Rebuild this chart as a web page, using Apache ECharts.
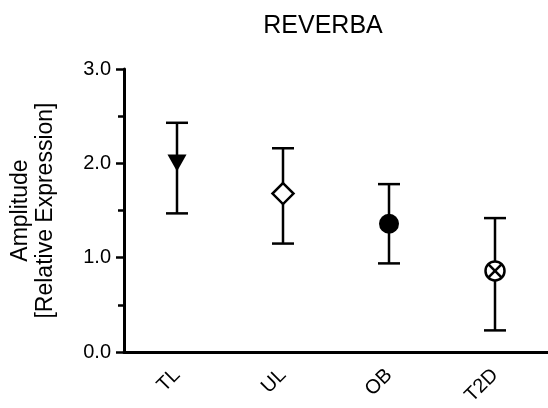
<!DOCTYPE html>
<html><head><meta charset="utf-8">
<script src="https://cdn.jsdelivr.net/npm/echarts@6/dist/echarts.min.js"></script>
<style>html,body{margin:0;padding:0;background:#fff}#c{width:548px;height:408px}</style>
</head><body><div id="c"></div>
<script>
var categories = ['TL', 'UL', 'OB', 'T2D'];
var means = [2.01, 1.68, 1.36, 0.86];
var lows = [1.47, 1.15, 0.94, 0.23];
var highs = [2.43, 2.16, 1.78, 1.42];
var markers = ['triangleDown', 'diamondOpen', 'circleFilled', 'circleCross'];
var yTicks = [0, 1, 2, 3];

var data = categories.map(function (c, i) { return [i, means[i], lows[i], highs[i], i]; });
var FONT = 'Liberation Sans, Arial, sans-serif';

function renderItem(params, api) {
  var x = api.value(0);
  var m = api.coord([x, api.value(1)]);
  var lo = api.coord([x, api.value(2)]);
  var hi = api.coord([x, api.value(3)]);
  var kind = markers[api.value(4)];
  var cap = 11;
  var ls = {stroke: '#000', lineWidth: 2.5};
  var children = [
    {type: 'line', shape: {x1: m[0], y1: lo[1], x2: m[0], y2: hi[1]}, style: ls},
    {type: 'line', shape: {x1: m[0] - cap, y1: lo[1], x2: m[0] + cap, y2: lo[1]}, style: ls},
    {type: 'line', shape: {x1: m[0] - cap, y1: hi[1], x2: m[0] + cap, y2: hi[1]}, style: ls}
  ];
  var cx = m[0], cy = m[1];
  if (kind === 'triangleDown') {
    children.push({type: 'polygon', shape: {points: [[cx - 9.5, cy - 8], [cx + 9.5, cy - 8], [cx, cy + 9]]}, style: {fill: '#000'}});
  } else if (kind === 'diamondOpen') {
    children.push({type: 'polygon', shape: {points: [[cx, cy - 10.5], [cx + 10.5, cy], [cx, cy + 10.5], [cx - 10.5, cy]]}, style: {fill: '#fff', stroke: '#000', lineWidth: 2.5}});
  } else if (kind === 'circleFilled') {
    children.push({type: 'circle', shape: {cx: cx, cy: cy, r: 10}, style: {fill: '#000'}});
  } else {
    var r = 9.5, d = r * 0.7071;
    children.push({type: 'circle', shape: {cx: cx, cy: cy, r: r}, style: {fill: '#fff', stroke: '#000', lineWidth: 2.5}});
    children.push({type: 'line', shape: {x1: cx - d, y1: cy - d, x2: cx + d, y2: cy + d}, style: ls});
    children.push({type: 'line', shape: {x1: cx - d, y1: cy + d, x2: cx + d, y2: cy - d}, style: ls});
  }
  return {type: 'group', children: children};
}

var chart = echarts.init(document.getElementById('c'), null, {renderer: 'canvas'});
chart.setOption({
  animation: false,
  backgroundColor: '#fff',
  title: {text: 'REVERBA', left: 318, top: 9, textAlign: 'center',
    textStyle: {fontFamily: FONT, fontSize: 25, fontWeight: 'normal', color: '#000'}},
  grid: {left: 124, top: 69, width: 428, bottom: 53, containLabel: false},
  xAxis: {
    type: 'category', data: categories, boundaryGap: true,
    axisLine: {lineStyle: {color: '#000', width: 3}},
    axisTick: {alignWithLabel: true, length: 8, lineStyle: {color: '#000', width: 2.5}},
    axisLabel: {rotate: 45, margin: 20, fontFamily: FONT, fontSize: 20, color: '#000'},
    splitLine: {show: false}
  },
  yAxis: {
    type: 'value', min: 0, max: 3, interval: 1,
    name: 'Amplitude\n[Relative Expression]', nameLocation: 'middle', nameGap: 66, nameRotate: 90,
    nameTextStyle: {fontFamily: FONT, fontSize: 23, color: '#000', lineHeight: 25},
    axisLine: {show: true, lineStyle: {color: '#000', width: 3}},
    axisTick: {show: true, length: 8, lineStyle: {color: '#000', width: 2.5}},
    minorTick: {show: true, splitNumber: 2, length: 6, lineStyle: {color: '#000', width: 2.5}},
    axisLabel: {margin: 13, fontFamily: FONT, fontSize: 20, color: '#000',
      formatter: function (v) { return yTicks.indexOf(v) >= 0 ? v.toFixed(1) : ''; }},
    splitLine: {show: false}
  },
  series: [{
    type: 'custom', renderItem: renderItem, data: data,
    encode: {x: 0, y: [1, 2, 3]}, clip: false
  }]
});
</script></body></html>
